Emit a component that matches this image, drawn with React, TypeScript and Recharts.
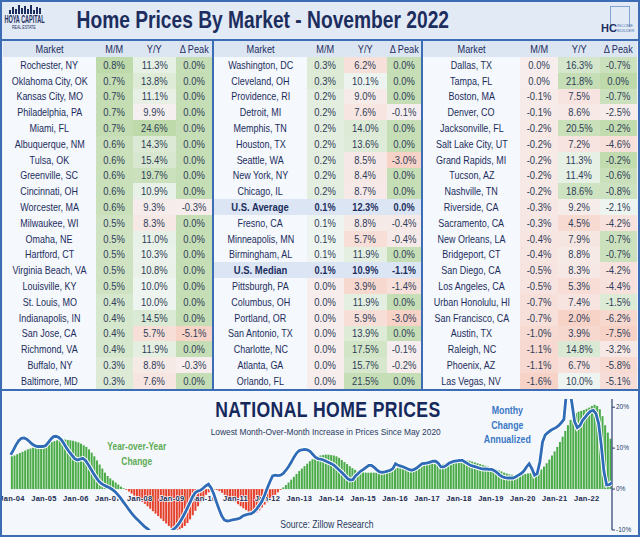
import React from "react";
import { ComposedChart, Bar, Line, XAxis, YAxis, Cell } from "recharts";

const NAVY = "#1c2d5e";
const FRAME = "#3c6cb4";
const NUM = "#2f3d58";
const FONT = '"Liberation Sans", Arial, sans-serif';

// ---- market tables (Nov 2022) ----
const MARKETS_A = [
  "Rochester, NY", "Oklahoma City, OK", "Kansas City, MO", "Philadelphia, PA", "Miami, FL",
  "Albuquerque, NM", "Tulsa, OK", "Greenville, SC", "Cincinnati, OH", "Worcester, MA",
  "Milwaukee, WI", "Omaha, NE", "Hartford, CT", "Virginia Beach, VA", "Louisville, KY",
  "St. Louis, MO", "Indianapolis, IN", "San Jose, CA", "Richmond, VA", "Buffalo, NY", "Baltimore, MD",
];
const MOM_A = [0.8, 0.7, 0.7, 0.7, 0.7, 0.6, 0.6, 0.6, 0.6, 0.6, 0.5, 0.5, 0.5, 0.5, 0.5, 0.4, 0.4, 0.4, 0.4, 0.3, 0.3];
const YOY_A = [11.3, 13.8, 11.1, 9.9, 24.6, 14.3, 15.4, 19.7, 10.9, 9.3, 8.3, 11.0, 10.3, 10.8, 10.0, 10.0, 14.5, 5.7, 11.9, 8.8, 7.6];
const PEAK_A = [0, 0, 0, 0, 0, 0, 0, 0, 0, -0.3, 0, 0, 0, 0, 0, 0, 0, -5.1, 0, -0.3, 0];

const MARKETS_B = [
  "Washington, DC", "Cleveland, OH", "Providence, RI", "Detroit, MI", "Memphis, TN",
  "Houston, TX", "Seattle, WA", "New York, NY", "Chicago, IL", "U.S. Average",
  "Fresno, CA", "Minneapolis, MN", "Birmingham, AL", "U.S. Median", "Pittsburgh, PA",
  "Columbus, OH", "Portland, OR", "San Antonio, TX", "Charlotte, NC", "Atlanta, GA", "Orlando, FL",
];
const MOM_B = [0.3, 0.3, 0.2, 0.2, 0.2, 0.2, 0.2, 0.2, 0.2, 0.1, 0.1, 0.1, 0.1, 0.1, 0.0, 0.0, 0.0, 0.0, 0.0, 0.0, 0.0];
const YOY_B = [6.2, 10.1, 9.0, 7.6, 14.0, 13.6, 8.5, 8.4, 8.7, 12.3, 8.8, 5.7, 11.9, 10.9, 3.9, 11.9, 5.9, 13.9, 17.5, 15.7, 21.5];
const PEAK_B = [0, 0, 0, -0.1, 0, 0, -3.0, 0, 0, 0, -0.4, -0.4, 0, -1.1, -1.4, 0, -3.0, 0, -0.1, -0.2, 0];

const MARKETS_C = [
  "Dallas, TX", "Tampa, FL", "Boston, MA", "Denver, CO", "Jacksonville, FL",
  "Salt Lake City, UT", "Grand Rapids, MI", "Tucson, AZ", "Nashville, TN", "Riverside, CA",
  "Sacramento, CA", "New Orleans, LA", "Bridgeport, CT", "San Diego, CA", "Los Angeles, CA",
  "Urban Honolulu, HI", "San Francisco, CA", "Austin, TX", "Raleigh, NC", "Phoenix, AZ", "Las Vegas, NV",
];
const MOM_C = [0.0, 0.0, -0.1, -0.1, -0.2, -0.2, -0.2, -0.2, -0.2, -0.3, -0.3, -0.4, -0.4, -0.5, -0.5, -0.7, -0.7, -1.0, -1.1, -1.1, -1.6];
const YOY_C = [16.3, 21.8, 7.5, 8.6, 20.5, 7.2, 11.3, 11.4, 18.6, 9.2, 4.5, 7.9, 8.8, 8.3, 5.3, 7.4, 2.0, 3.9, 14.8, 6.7, 10.0];
const PEAK_C = [-0.7, 0, -0.7, -2.5, -0.2, -4.6, -0.2, -0.6, -0.8, -2.1, -4.2, -0.7, -0.7, -4.2, -4.4, -1.5, -6.2, -7.5, -3.2, -5.8, -5.1];

const HEADERS = ["Market", "M/M", "Y/Y", "\u0394 Peak"];

// ---- national chart: monthly, Jan-04 .. Oct-22, in % ----
const CHART_YEARS = [2004, 2005, 2006, 2007, 2008, 2009, 2010, 2011, 2012, 2013, 2014, 2015, 2016, 2017, 2018, 2019, 2020, 2021, 2022];
const MONTHS = ["Jan", "Feb", "Mar", "Apr", "May", "Jun", "Jul", "Aug", "Sep", "Oct", "Nov", "Dec"];
const YOY_CHANGE = [
  [8.0, 8.2, 8.5, 8.8, 9.1, 9.4, 9.7, 9.9, 10.1, 10.3, 10.5, 10.7],
  [10.9, 11.1, 11.3, 11.5, 11.7, 11.9, 12.0, 12.1, 12.1, 12.0, 11.9, 11.8],
  [11.6, 11.4, 11.1, 10.7, 10.3, 9.7, 8.9, 8.0, 7.0, 6.0, 5.0, 4.0],
  [3.2, 2.6, 2.1, 1.6, 1.1, 0.6, 0.2, -0.2, -0.6, -1.1, -1.6, -2.1],
  [-2.6, -3.1, -3.6, -4.2, -4.8, -5.4, -6.0, -6.6, -7.2, -7.8, -8.4, -9.0],
  [-9.5, -9.9, -10.0, -9.8, -9.5, -9.0, -8.3, -7.4, -6.4, -5.3, -4.2, -3.2],
  [-2.2, -1.4, -0.8, -0.4, -0.2, -0.2, -0.5, -0.9, -1.4, -1.9, -2.3, -2.7],
  [-3.2, -3.7, -4.2, -4.7, -5.1, -5.5, -5.8, -5.9, -5.7, -5.2, -4.5, -3.8],
  [-3.2, -2.6, -2.0, -1.4, -0.8, -0.2, 0.4, 1.0, 1.6, 2.3, 3.0, 3.7],
  [4.4, 5.0, 5.6, 6.2, 6.8, 7.3, 7.7, 8.0, 8.2, 8.3, 8.4, 8.4],
  [8.3, 8.2, 8.0, 7.6, 7.1, 6.6, 6.1, 5.6, 5.1, 4.7, 4.4, 4.2],
  [4.1, 4.0, 4.0, 4.0, 4.0, 4.0, 4.0, 4.1, 4.2, 4.4, 4.6, 4.8],
  [5.0, 5.2, 5.3, 5.4, 5.3, 5.1, 5.0, 5.0, 5.2, 5.5, 5.8, 6.0],
  [6.1, 6.2, 6.2, 6.1, 6.0, 6.0, 6.1, 6.3, 6.5, 6.7, 6.9, 7.0],
  [7.1, 7.2, 7.1, 7.0, 6.9, 6.7, 6.5, 6.3, 6.1, 5.9, 5.7, 5.5],
  [5.3, 5.1, 4.9, 4.6, 4.3, 4.0, 3.8, 3.6, 3.5, 3.4, 3.4, 3.5],
  [3.6, 3.7, 3.8, 3.9, 3.9, 4.0, 4.3, 4.8, 5.5, 6.3, 7.2, 8.2],
  [9.2, 10.3, 11.5, 12.8, 14.2, 15.6, 16.9, 17.8, 18.5, 18.9, 19.1, 19.3],
  [19.6, 19.9, 20.3, 20.6, 20.3, 19.5, 17.8, 15.6, 13.8, 12.3],
];
const MOM_ANNUALIZED = [
  [8.4, 9.5, 10.8, 11.8, 12.4, 12.5, 12.2, 11.6, 11.0, 10.6, 10.4, 10.4],
  [10.4, 10.6, 11.3, 12.2, 12.8, 12.9, 12.6, 12.0, 11.0, 9.9, 9.0, 8.2],
  [7.4, 7.1, 7.3, 7.5, 7.0, 6.0, 4.9, 3.8, 2.8, 1.9, 1.3, 0.9],
  [0.6, 0.3, -0.1, -0.6, -1.3, -2.1, -3.0, -3.9, -4.8, -5.7, -6.5, -7.2],
  [-7.8, -8.5, -9.1, -9.6, -10.2, -11.0, -12.0, -13.0, -14.0, -15.0, -14.0, -12.5],
  [-10.3, -9.8, -9.2, -8.4, -7.3, -6.1, -4.8, -3.4, -2.0, -0.9, -0.5, -0.3],
  [0.2, 0.8, 1.2, 0.3, -1.2, -3.2, -5.0, -6.6, -7.6, -7.8, -7.7, -7.5],
  [-7.4, -7.3, -7.0, -6.5, -6.3, -6.1, -6.0, -5.6, -4.9, -4.0, -3.0, -1.5],
  [0.2, 1.8, 3.2, 3.4, 3.3, 3.4, 3.8, 4.6, 5.5, 6.6, 7.8, 8.8],
  [9.4, 9.6, 9.7, 9.6, 9.2, 8.5, 7.8, 7.4, 7.3, 7.1, 6.8, 6.5],
  [6.2, 5.8, 5.2, 4.6, 4.0, 3.3, 2.6, 2.2, 2.3, 3.2, 3.8, 4.4],
  [4.8, 5.3, 5.8, 5.8, 5.3, 4.7, 4.2, 4.1, 4.2, 4.4, 4.6, 5.0],
  [6.2, 5.8, 5.6, 5.4, 5.1, 4.8, 4.6, 4.8, 5.2, 5.7, 6.2, 6.3],
  [6.4, 6.6, 6.8, 6.8, 6.3, 5.4, 5.4, 5.8, 6.3, 6.6, 6.8, 6.9],
  [7.0, 7.0, 6.6, 6.2, 5.8, 5.6, 5.4, 5.2, 5.0, 4.9, 4.9, 4.8],
  [4.8, 4.5, 4.0, 3.4, 3.0, 2.8, 2.7, 2.7, 2.7, 3.0, 3.4, 3.8],
  [4.4, 5.4, 6.2, 5.0, 3.4, 3.8, 6.6, 11.5, 13.2, 13.8, 14.3, 14.7],
  [15.0, 15.5, 16.2, 17.0, 24.0, 25.0, 21.0, 16.5, 15.0, 15.5, 16.8, 17.6],
  [18.4, 19.0, 19.2, 18.4, 16.0, 10.6, 4.2, 1.0, 1.1, 1.6],
];
const Y_TICKS = [-10, 0, 10, 20];
const Y_DOMAIN = [-10, 22];

const chartData = YOY_CHANGE.flatMap((row, yi) =>
  row.map((v, mi) => ({
    label: `${MONTHS[mi]}-${String(CHART_YEARS[yi]).slice(2)}`,
    yoy: v,
    mom: MOM_ANNUALIZED[yi][mi],
  }))
);

// ---- heat map colours ----
const GREEN = [190, 218, 170];
const RED = [247, 210, 199];
const BASE = [246, 248, 251];
const mix = (a: number[], b: number[], t: number) =>
  `rgb(${a.map((c, i) => Math.round(c + (b[i] - c) * t)).join(",")})`;
const median = (arr: number[]) => {
  const s = [...arr].sort((a, b) => a - b);
  const n = s.length;
  return n % 2 ? s[(n - 1) / 2] : (s[n / 2 - 1] + s[n / 2]) / 2;
};
const isUS = (name: string) => name.startsWith("U.S.");
const marketsOnly = (names: string[], vals: number[]) => vals.filter((_, i) => !isUS(names[i]));

function makeScale(values: number[]) {
  const min = Math.min(...values);
  const max = Math.max(...values);
  const mid = median(values);
  return (v: number) => {
    if (v >= mid) {
      const t = max > mid ? (v - mid) / (max - mid) : 0.8;
      return mix(BASE, GREEN, 0.15 + 0.85 * Math.pow(t, 0.8));
    }
    const t = (mid - v) / (mid - min);
    return mix(BASE, RED, 0.2 + 0.8 * Math.pow(t, 0.8));
  };
}

const allMom = [...marketsOnly(MARKETS_A, MOM_A), ...marketsOnly(MARKETS_B, MOM_B), ...marketsOnly(MARKETS_C, MOM_C)];
const allYoy = [...marketsOnly(MARKETS_A, YOY_A), ...marketsOnly(MARKETS_B, YOY_B), ...marketsOnly(MARKETS_C, YOY_C)];
const momScale = makeScale(allMom);
const yoyScale = makeScale(allYoy);

const TABLES = [
  { left: 3, cols: [93, 37, 43, 36], names: MARKETS_A, mom: MOM_A, yoy: YOY_A, peak: PEAK_A },
  { left: 214, cols: [93, 37, 43, 34], names: MARKETS_B, mom: MOM_B, yoy: YOY_B, peak: PEAK_B },
  { left: 423, cols: [97, 38, 42, 37], names: MARKETS_C, mom: MOM_C, yoy: YOY_C, peak: PEAK_C },
];

const HEADER_H = 16;
const ROW_H = 15.8;
const SQ = 0.8;
const fmt = (v: number) => `${v.toFixed(1)}%`;

// condensed text: the reference uses a narrow face, so squeeze horizontally
const Sq = ({ s = SQ, children }: { s?: number; children: React.ReactNode }) => (
  <span style={{ display: "inline-block", transform: `scaleX(${s})`, whiteSpace: "nowrap" }}>{children}</span>
);

const cellBox = (w: number, h: number): React.CSSProperties => ({
  width: w,
  height: h,
  display: "flex",
  justifyContent: "center",
  alignItems: "center",
  overflow: "visible",
});

const MarketTable = ({ t }: { t: (typeof TABLES)[number] }) => {
  const peakScale = makeScale(marketsOnly(t.names, t.peak));
  const width = t.cols.reduce((a, b) => a + b, 0);
  return (
    <div style={{ position: "absolute", left: t.left, top: 41, width }}>
      <div style={{ display: "flex", height: HEADER_H, background: "#dce6f3" }}>
        {HEADERS.map((h, i) => (
          <div key={h} style={{ ...cellBox(t.cols[i], HEADER_H), fontSize: 11.5, color: NAVY }}>
            <Sq>{h}</Sq>
          </div>
        ))}
      </div>
      {t.names.map((name, r) => {
        const us = isUS(name);
        const cells = [t.mom[r], t.yoy[r], t.peak[r]];
        const bgs = us ? ["#dbe5f3", "#dbe5f3", "#dbe5f3"] : [momScale(t.mom[r]), yoyScale(t.yoy[r]), peakScale(t.peak[r])];
        return (
          <div key={name} style={{ display: "flex", height: ROW_H, background: us ? "#dbe5f3" : "#f5f8fc" }}>
            <div
              style={{
                ...cellBox(t.cols[0], ROW_H),
                fontSize: 11.5,
                fontWeight: us ? "bold" : "normal",
                color: NAVY,
              }}
            >
              <Sq s={us ? 0.82 : 0.78}>{name}</Sq>
            </div>
            {cells.map((v, c) => (
              <div
                key={c}
                style={{
                  ...cellBox(t.cols[c + 1], ROW_H),
                  fontSize: 11.5,
                  fontWeight: us ? "bold" : "normal",
                  color: us ? NAVY : NUM,
                  background: bgs[c],
                }}
              >
                <Sq s={us ? 0.8 : 0.82}>{fmt(v)}</Sq>
              </div>
            ))}
          </div>
        );
      })}
    </div>
  );
};

const XTick = ({ x, y, payload }: any) => (
  <text
    x={x}
    y={y - 29}
    textAnchor="middle"
    fontSize={7.5}
    fontWeight="bold"
    fill="#1c2a52"
    stroke="#f4f7fb"
    strokeWidth={1.5}
    paintOrder="stroke"
    style={{ fontFamily: FONT, letterSpacing: 0.3 }}
  >
    {payload.value}
  </text>
);

// geometry of the national chart
const CH_W = 640;
const CH_H = 147;
const CH_MARGIN = { top: 9, right: 4, bottom: 0, left: 10.7 };
const Y_AXIS_W = 24;
const X_AXIS_H = 7;
const PLOT_W = CH_W - CH_MARGIN.left - CH_MARGIN.right - Y_AXIS_W;
const PLOT_H = CH_H - CH_MARGIN.top - CH_MARGIN.bottom - X_AXIS_H;

// bars + axes
const BarLayer = () => (
  <ComposedChart width={CH_W} height={CH_H} data={chartData} margin={CH_MARGIN} barCategoryGap={0.15}>
    <YAxis
      yAxisId="r"
      orientation="right"
      width={Y_AXIS_W}
      domain={Y_DOMAIN}
      ticks={Y_TICKS}
      allowDataOverflow
      tickFormatter={(v: number) => `${v}%`}
      axisLine={{ stroke: "#2a3d6e", strokeWidth: 1.2 }}
      tickLine={{ stroke: "#2a3d6e" }}
      tickSize={3}
      tickMargin={1}
      tick={{ fontSize: 6.5, fill: "#2a3d6e", fontFamily: FONT }}
    />
    <Bar dataKey="yoy" yAxisId="r" isAnimationActive={false}>
      {chartData.map((d, i) => (
        <Cell key={i} fill={d.yoy >= 0 ? "#4aab47" : "#e63f2a"} />
      ))}
    </Bar>
    <XAxis
      dataKey="label"
      interval={11}
      height={X_AXIS_H}
      tickSize={0}
      tickMargin={0}
      axisLine={false}
      tickLine={false}
      tick={<XTick />}
    />
  </ComposedChart>
);

// monthly-change line, same scales, clipped to the plot box by its wrapper
const LineLayer = () => (
  <div
    style={{
      position: "absolute",
      left: 0,
      top: CH_MARGIN.top,
      width: CH_MARGIN.left + PLOT_W,
      height: PLOT_H,
      overflow: "hidden",
    }}
  >
    <div style={{ position: "absolute", left: 0, top: -CH_MARGIN.top }}>
      <ComposedChart width={CH_W} height={CH_H} data={chartData} margin={CH_MARGIN}>
        <YAxis yAxisId="r" orientation="right" width={Y_AXIS_W} domain={Y_DOMAIN} allowDataOverflow tick={false} axisLine={false} tickLine={false} />
        <XAxis dataKey="label" height={X_AXIS_H} tick={false} axisLine={false} tickLine={false} />
        <Line yAxisId="r" dataKey="mom" type="linear" stroke="#ffffff" strokeWidth={4.8} dot={false} isAnimationActive={false} />
        <Line yAxisId="r" dataKey="mom" type="linear" stroke="#2f6bb6" strokeWidth={2.8} dot={false} isAnimationActive={false} />
      </ComposedChart>
    </div>
  </div>
);

const NationalChart = () => (
  <div style={{ position: "relative", width: CH_W, height: CH_H }}>
    <BarLayer />
    <LineLayer />
  </div>
);

const abs = (style: React.CSSProperties): React.CSSProperties => ({ position: "absolute", ...style });

// centred, squeezed text block
const Label = ({ cx, top, s, style, children }: { cx: number; top: number; s: number; style: React.CSSProperties; children: React.ReactNode }) => (
  <div style={abs({ left: cx - 400, top, width: 800, textAlign: "center", ...style })}>
    <div style={{ display: "inline-block", transform: `scaleX(${s})`, whiteSpace: "nowrap" }}>{children}</div>
  </div>
);

export default function App() {
  return (
    <div style={{ position: "relative", width: 640, height: 537, background: "#eef3fa", fontFamily: FONT, overflow: "hidden" }}>
      <style>{`body{margin:0}`}</style>

      {/* title bar */}
      <div style={abs({ left: 0, top: 0, width: 640, height: 40, background: "#e2eaf6" })} />
      <Label cx={263} top={4} s={0.8} style={{ fontSize: 24, fontWeight: "bold", color: NAVY, lineHeight: "32px" }}>
        Home Prices By Market - November 2022
      </Label>
      {/* left logo */}
      <div style={abs({ left: 9, top: 5, width: 32, height: 9, display: "flex", alignItems: "flex-end", gap: 1 })}>
        {[4, 7, 5, 9, 6, 8, 5, 9, 4, 7, 6].map((h, i) => (
          <div key={i} style={{ width: 2, height: h, background: NAVY }} />
        ))}
      </div>
      <Label cx={24} top={14} s={0.55} style={{ fontSize: 10, fontWeight: "bold", color: NAVY, lineHeight: "11px" }}>
        HOYA CAPITAL
      </Label>
      <Label cx={24} top={25} s={0.8} style={{ fontSize: 4.5, color: NAVY, lineHeight: "6px" }}>
        REAL ESTATE
      </Label>
      {/* right logo */}
      <div style={abs({ left: 610, top: 6, width: 18, height: 20, border: "1px solid #7fa3cf", borderBottom: "none" })} />
      <div style={abs({ left: 601, top: 22, fontSize: 11, fontWeight: "bold", color: NAVY, lineHeight: "12px" })}>HC</div>
      <div style={abs({ left: 617, top: 23, fontSize: 4, color: "#4b73ad", lineHeight: "5px", width: 18 })}>INCOME BUILDER</div>

      {/* tables */}
      <div style={abs({ left: 0, top: 39, width: 640, height: 2, background: FRAME })} />
      {TABLES.map((t, i) => (
        <MarketTable key={i} t={t} />
      ))}
      <div style={abs({ left: 212, top: 40, width: 2, height: 350, background: FRAME })} />
      <div style={abs({ left: 421, top: 40, width: 2, height: 350, background: FRAME })} />
      <div style={abs({ left: 0, top: 389, width: 640, height: 2, background: FRAME })} />

      {/* national chart panel */}
      <div style={abs({ left: 0, top: 391, width: 640, height: 146, background: "#f4f7fb" })} />
      <div style={abs({ left: 0, top: 390 })}>
        <NationalChart />
      </div>
      <Label cx={328} top={399} s={0.8} style={{ fontSize: 22, fontWeight: "bold", color: "#16295c", lineHeight: "22px", letterSpacing: 0.5 }}>
        NATIONAL HOME PRICES
      </Label>
      <Label cx={326} top={426} s={0.88} style={{ fontSize: 9.5, color: "#2a3a5e", lineHeight: "12px" }}>
        Lowest Month-Over-Month Increase in Prices Since May 2020
      </Label>
      <Label cx={137} top={439} s={0.8} style={{ fontSize: 10.5, fontWeight: "bold", color: "#5dab55", lineHeight: "15px" }}>
        Year-over-Year
        <br />
        Change
      </Label>
      <Label cx={507} top={403} s={0.8} style={{ fontSize: 11, fontWeight: "bold", color: "#3a78c6", lineHeight: "14.5px" }}>
        Monthy
        <br />
        Change
        <br />
        Annualized
      </Label>
      <Label cx={327} top={517} s={0.82} style={{ fontSize: 10.5, color: "#2a3a5e", lineHeight: "14px" }}>
        Source: Zillow Research
      </Label>

      {/* outer frame */}
      <div style={abs({ left: 0, top: 0, width: 640, height: 537, boxSizing: "border-box", border: `2px solid ${FRAME}`, pointerEvents: "none" })} />
    </div>
  );
}
